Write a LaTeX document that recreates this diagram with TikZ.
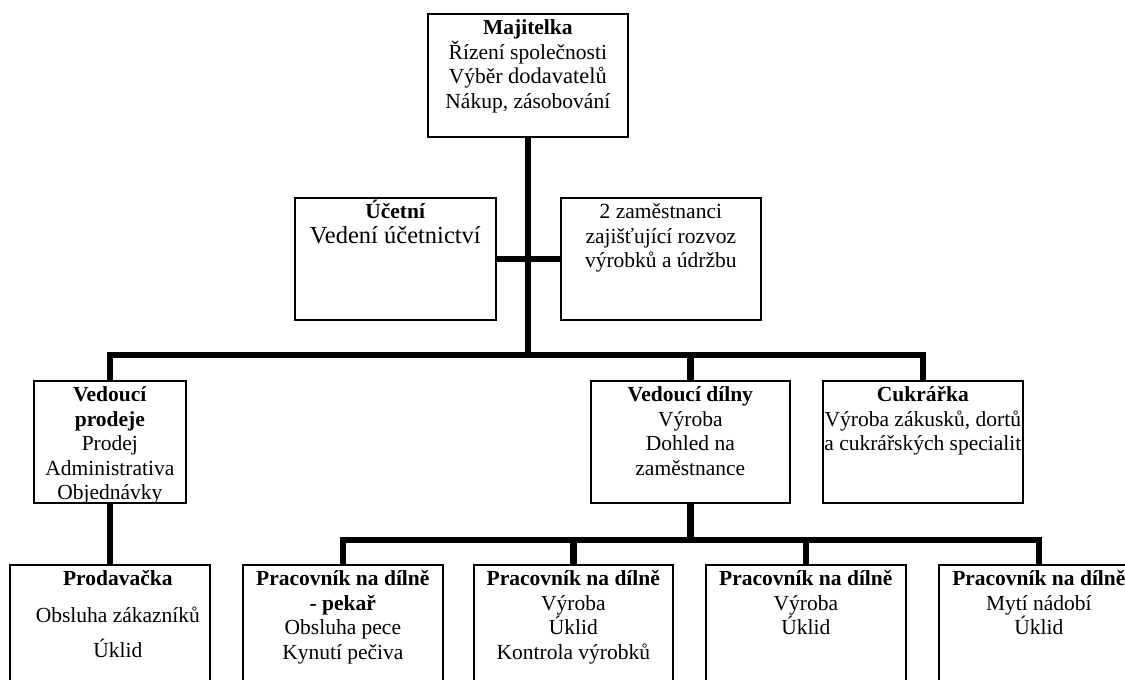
\documentclass[tikz,border=0pt]{standalone}
\usepackage{fontspec}
\setmainfont{Liberation Serif}
\usetikzlibrary{calc}

% box content: fixed width/height, text hanging from the top
\newcommand\bx[3]{\parbox[t][#2pt][t]{#1pt}{\centering\rule{0pt}{21pt}#3}}

\begin{document}
\begin{tikzpicture}[x=1pt,y=-1pt,
  orgbox/.style={draw, line width=1.7pt, inner sep=0pt, anchor=north west,
    font=\fontsize{21.5}{24.5}\selectfont},
  bar/.style={line width=6.5pt, line join=miter, line cap=butt}]
\useasboundingbox (0,0) rectangle (1125,680);

% top level
\node[orgbox] (maj) at (427,13) {\bx{200}{123}{\textbf{Majitelka}\\Řízení společnosti\\Výběr {\fontsize{22.5}{24.5}\selectfont dodavatelů}\\Nákup, zásobování}};

% staff side boxes
\node[orgbox] (acc) at (294,197) {\bx{201}{122}{\textbf{Účetní}\\{\fontsize{24.5}{24.5}\selectfont Vedení účetnictví}}};
\node[orgbox] (roz) at (560,197) {\bx{200}{122}{2 zaměstnanci\\zajišťující rozvoz\\výrobků a údržbu}};

% second level
\node[orgbox] (vp) at (33,380) {\bx{152}{122}{\textbf{Vedoucí}\\\textbf{prodeje}\\Prodej\\Administrativa\\Objednávky}};
\node[orgbox] (vd) at (590,380) {\bx{199}{122}{\textbf{Vedoucí dílny}\\Výroba\\Dohled na\\zaměstnance}};
\node[orgbox] (cuk) at (822,380) {\bx{200}{122}{\textbf{Cukrářka}\\Výroba zákusků, dortů\\a cukrářských specialit}};

% third level
\node[orgbox] (prod) at (9,564) {\bx{200}{140}{\hspace*{16pt}\textbf{Prodavačka}\\[12pt]\hspace*{16pt}Obsluha zákazníků\\[11pt]\hspace*{16pt}Úklid}};
\node[orgbox] (pek) at (242,564) {\bx{200}{140}{\textbf{Pracovník na dílně}\\\textbf{- pekař}\\Obsluha pece\\Kynutí pečiva}};
\node[orgbox] (p3) at (473,564) {\bx{199}{140}{\textbf{Pracovník na dílně}\\Výroba\\Úklid\\Kontrola výrobků}};
\node[orgbox] (p4) at (705,564) {\bx{200}{140}{\textbf{Pracovník na dílně}\\Výroba\\Úklid}};
\node[orgbox] (p5) at (938,564) {\bx{200}{140}{\textbf{Pracovník na dílně}\\Mytí nádobí\\Úklid}};

% bus levels
\coordinate (bus1) at (0,355);
\coordinate (bus2) at (0,540);

% connectors
\draw[bar] (acc.east) -- (roz.west);
\draw[bar] (maj.south) -- (maj.south |- bus1);
\draw[bar] (vp.north) -- (vp.north |- bus1) -- (cuk.north |- bus1) -- (cuk.north);
\draw[bar] (vd.north) -- (vd.north |- bus1);
\draw[bar] (vp.south) -- (prod.north);
\draw[bar] (vd.south) -- (vd.south |- bus2);
\draw[bar] (pek.north) -- (pek.north |- bus2) -- (p5.north |- bus2) -- (p5.north);
\draw[bar] (p3.north) -- (p3.north |- bus2);
\draw[bar] (p4.north) -- (p4.north |- bus2);
\end{tikzpicture}
\end{document}
